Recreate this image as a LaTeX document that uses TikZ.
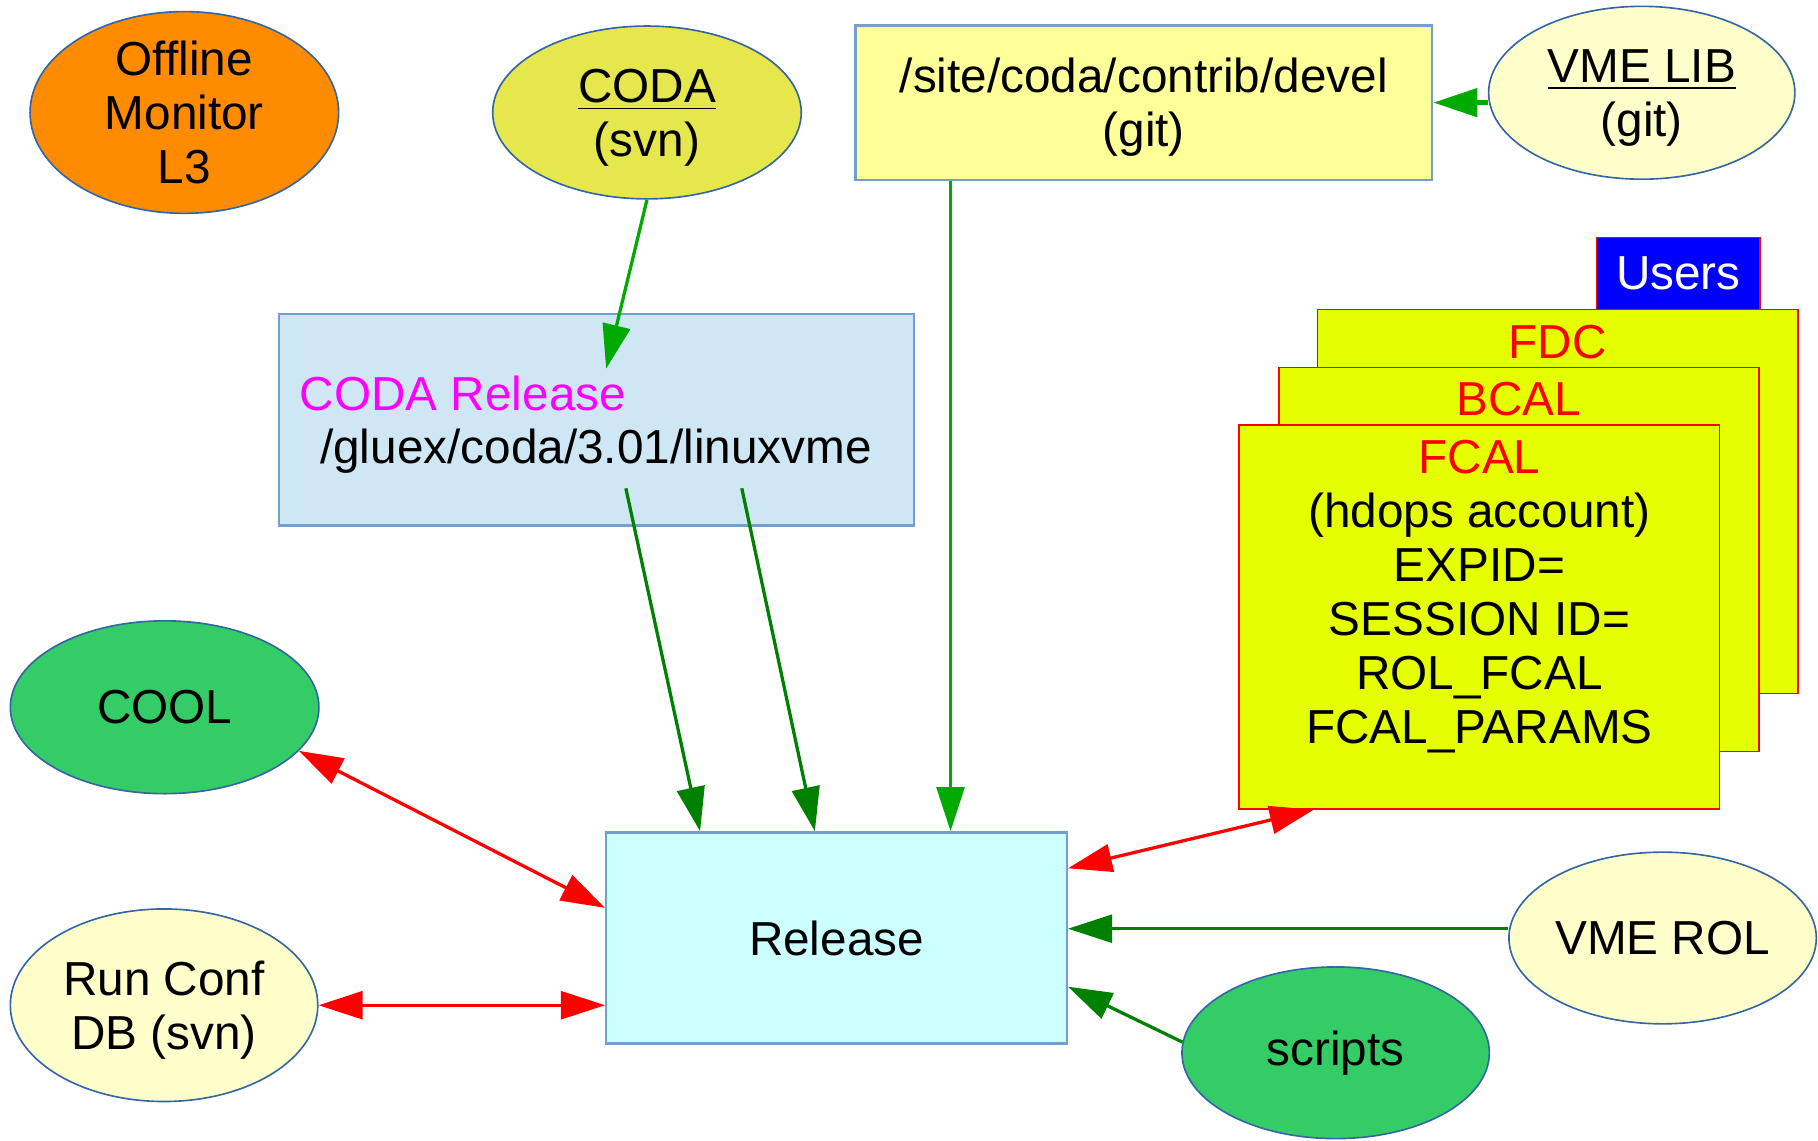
\documentclass[tikz,border=0pt]{standalone}
\usepackage{fontspec}
\setmainfont{Liberation Sans}
\usepackage{xcolor}
\usetikzlibrary{positioning,calc,shapes.geometric,arrows.meta}

\definecolor{cam}{RGB}{255,140,0}
\definecolor{vang_coda}{RGB}{230,230,77}
\definecolor{vang_nhat}{RGB}{255,255,153}
\definecolor{vang_kem}{RGB}{255,255,204}
\definecolor{vang_xanh}{RGB}{230,255,0}
\definecolor{xanh_la}{RGB}{51,204,102}
\definecolor{xanh_nhat}{RGB}{207,231,245}
\definecolor{xanh_rel}{RGB}{204,255,255}
\definecolor{xanh_dam}{RGB}{0,128,0}
\definecolor{xanh_sang}{RGB}{0,170,0}
\definecolor{vien_oval}{RGB}{52,101,164}
\definecolor{vien_hop}{RGB}{114,159,207}
\definecolor{tim}{RGB}{255,0,255}

\begin{document}
\begin{tikzpicture}[
	x=0.01cm, y=-0.01cm, % toạ độ tính theo pixel, y đi xuống
	every node/.style={font=\fontsize{11.7}{13.2}\selectfont, inner sep=0pt},
	oval/.style={              % Hình elip
		ellipse, draw=vien_oval, line width=0.4pt,
		minimum width=2.66cm, minimum height=1.49cm,
		align=center
	},
	hop/.style={               % Hộp chữ nhật viền xanh
		rectangle, draw=vien_hop, line width=0.6pt,
		align=center
	},
	hai_dong/.style={text depth=0pt}, % bỏ phần dưới dòng cuối để chữ nằm giữa
	the_user/.style={          % Thẻ người dùng (FDC, BCAL, FCAL)
		rectangle, draw=red, fill=vang_xanh, line width=0.4pt,
		minimum width=4.14cm, minimum height=3.31cm
	},
	% --- Mũi tên ---
	arrow_dg/.style={-{Triangle[length=3.8mm,width=2.4mm]}, xanh_dam, line width=0.8pt},
	arrow_lg/.style={-{Triangle[length=3.8mm,width=2.4mm]}, xanh_sang, line width=0.8pt},
	arrow_red/.style={{Triangle[length=3.8mm,width=2.4mm]}-{Triangle[length=3.8mm,width=2.4mm]}, red, line width=0.8pt}
	]
	\useasboundingbox (0,0) rectangle (1568,983.3);
	
	% --- HÀNG TRÊN ---
	\node[oval, fill=cam] (offline) at (159,97) {Offline\\Monitor\\L3};
	\node[oval, hai_dong, fill=vang_coda] (coda) at (558,97) {\underline{CODA}\\(svn)};
	\node[hop, hai_dong, fill=vang_nhat, minimum width=4.97cm, minimum height=1.33cm] (devel) at (986.5,88.5) {/site/coda/contrib/devel\\(git)};
	\node[oval, hai_dong, fill=vang_kem, minimum width=2.64cm] (vmelib) at (1416,80) {\underline{VME LIB}\\(git)};
	
	% --- CODA Release ---
	\node[hop, fill=xanh_nhat, minimum width=5.47cm, minimum height=1.82cm] (codarel) at (514.5,362) {};
	\node[anchor=base west, text=tim] (codalbl) at (258,354) {CODA Release};
	\node[anchor=base] (codapath) at (514,400) {/gluex/coda/3.01/linuxvme};
	
	% --- Người dùng ---
	\node[rectangle, draw=red, fill=blue, text=white, line width=0.4pt, minimum width=1.41cm, minimum height=0.62cm] (users) at (1447.5,236) {Users};
	\node[the_user] (fdc) at (1343.5,432.5) {};
	\node[text=red] (fdclbl) at (1343.5,295) {FDC};
	\node[the_user] (bcal) at (1310,482.5) {};
	\node[text=red] (bcallbl) at (1310,344) {BCAL};
	\node[the_user] (fcal) at (1276,532) {};
	\node[anchor=north, align=center] (fcaltxt) at (1276,379.3) {\textcolor{red}{FCAL}\\(hdops account)\\EXPID=\\SESSION ID=\\ROL\_FCAL\\FCAL\_PARAMS};
	
	% --- Release và các nút xung quanh ---
	\node[hop, fill=xanh_rel, minimum width=3.97cm, minimum height=1.82cm] (release) at (721.5,809) {Release};
	\node[oval, fill=xanh_la] (cool) at (142,610) {COOL};
	\node[oval, hai_dong, fill=vang_kem, minimum width=2.65cm, minimum height=1.66cm] (runconf) at (141.5,867) {Run Conf\\DB (svn)};
	\node[oval, fill=vang_kem, minimum width=2.65cm, minimum height=1.48cm] (vmerol) at (1434,809) {VME ROL};
	\node[oval, fill=xanh_la, minimum width=2.65cm, minimum height=1.48cm] (scripts) at (1152,908) {scripts};
	
	% --- Điểm đầu/cuối của mũi tên ---
	\coordinate (inA) at ($(release.north west)+(82,0)$);
	\coordinate (inB) at ($(release.north west)+(181,0)$);
	\coordinate (inC) at ($(release.north west)+(298,0)$);
	\coordinate (outA) at ($(codarel.south west)+(300,-33)$);
	\coordinate (outB) at ($(codarel.south west)+(400,-33)$);
	\coordinate (codatip) at ($(codarel.north west)+(283,48)$);
	\coordinate (inR) at ($(release.east)+(0,-8)$);
	\coordinate (inS) at ($(release.east)+(0,42)$);
	\coordinate (inF) at ($(release.north east)+(0,32)$);
	\coordinate (outF) at ($(fcal.south west)+(65,0)$);
	\coordinate (inL) at ($(release.west)+(0,-26)$);
	
	% Mũi tên xanh
	\draw[arrow_lg] (coda.south) -- (codatip);
	\draw[arrow_lg, line width=1.3pt] (devel.east -| vmelib.west) -- (devel.east);
	\draw[arrow_lg] (devel.south -| inC) -- (inC);
	\draw[arrow_dg] (outA) -- (inA);
	\draw[arrow_dg] (outB) -- (inB);
	\draw[arrow_dg] (vmerol.west |- inR) -- (inR);
	\draw[arrow_dg] (scripts.176) -- (inS);
	
	% Mũi tên đỏ 2 chiều
	\draw[arrow_red] (inF) -- (outF);
	\draw[arrow_red] (cool.342) -- (inL);
	\draw[arrow_red] (runconf.east) -- (runconf.east -| release.west);
	
\end{tikzpicture}
\end{document}
